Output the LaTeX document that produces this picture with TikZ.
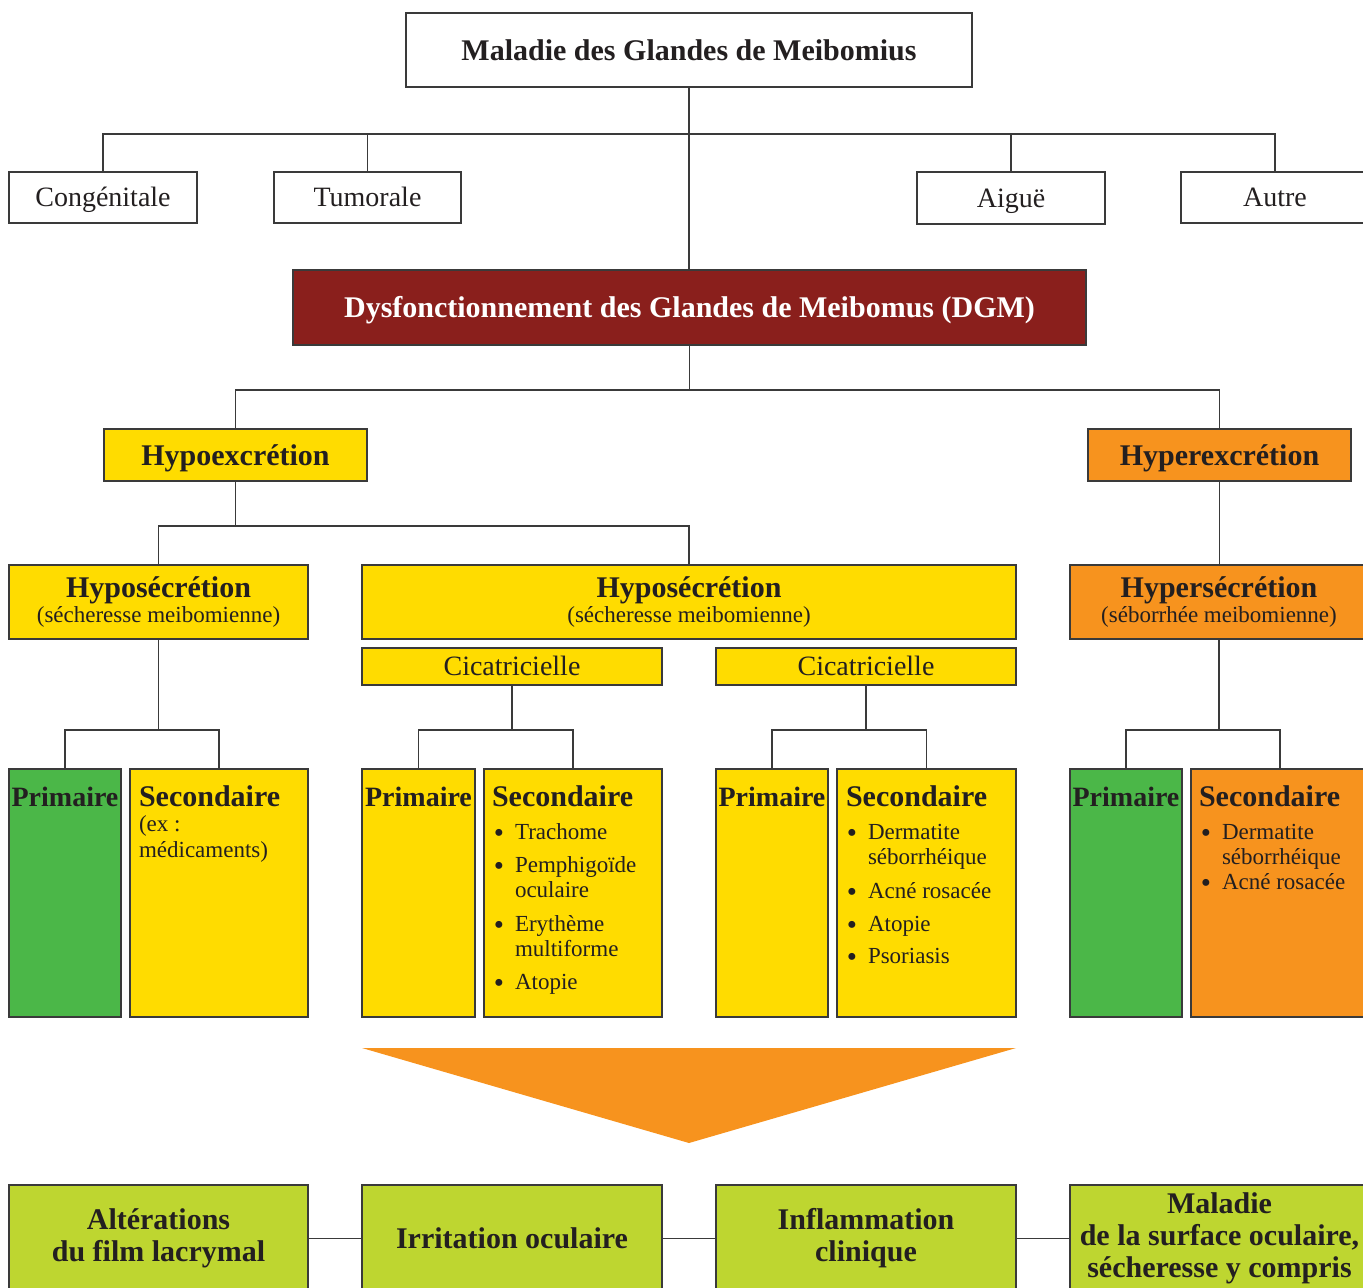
\documentclass[tikz,border=0pt]{standalone}
\usepackage{fontspec}
\setmainfont{Liberation Serif}
\definecolor{txt}{HTML}{231F20}
\definecolor{lnc}{HTML}{3A3A3A}
\definecolor{dgmred}{HTML}{8A1F1C}
\definecolor{yel}{HTML}{FFDC00}
\definecolor{org}{HTML}{F7931E}
\definecolor{grn}{HTML}{4BB748}
\definecolor{lime}{HTML}{BED630}
\newcommand\mybox[7]{\node[box,#2,minimum width=\fpeval{#5-#3}pt,minimum height=\fpeval{#6-#4}pt] (#1) at (#3,#4) {#7};}
\newcommand\blt[4]{\node[font=\fontsize{29}{30}\selectfont,anchor=base] (#1b) at (#2-16,#3+3.5) {\textbullet}; \node[sm,anchor=base west] (#1) at (#2,#3) {#4};}
\newcommand\cont[4]{\node[sm,anchor=base west] (#1) at (#2,#3) {#4};}
\begin{document}
\begin{tikzpicture}[x=1pt,y=-1pt,
  every node/.style={inner sep=0pt, outer sep=0pt, text=txt},
  box/.style={draw=lnc, line width=1.2pt, rectangle, anchor=north west, align=center},
  ln/.style={draw=lnc, line width=1.2pt},
  bf/.style={font=\fontsize{30}{32}\selectfont\bfseries},
  rg/.style={font=\fontsize{28}{30}\selectfont},
  sm/.style={font=\fontsize{23}{25}\selectfont},
  one30/.style={text height=20pt, text depth=0pt},
  one28/.style={text height=18.5pt, text depth=0pt},
  two/.style={font=\fontsize{30}{26}\selectfont}]
\useasboundingbox (0,0) rectangle (1363,1288);
\clip (0,0) rectangle (1363,1288);
% top level
\mybox{mgm}{fill=white,bf,one30}{406}{13}{972}{87}{Maladie des Glandes de Meibomius}
\mybox{cong}{fill=white,rg,one28}{9}{172}{197}{223}{Congénitale}
\mybox{tum}{fill=white,rg,one28}{274}{172}{461}{223}{Tumorale}
\mybox{aig}{fill=white,rg,one28}{917}{172}{1105}{224}{Aiguë}
\mybox{aut}{fill=white,rg,one28}{1181}{172}{1369}{223}{Autre}
\mybox{dgm}{fill=dgmred,bf,one30,text=white}{293}{270}{1086}{345}{Dysfonctionnement des Glandes de Meibomus (DGM)}
% second level
\mybox{hypo}{fill=yel,bf,one30}{104}{429}{367}{481}{Hypoexcrétion}
\mybox{hyper}{fill=org,bf,one30}{1088}{429}{1351}{481}{Hyperexcrétion}
\mybox{hs1}{fill=yel,two}{9}{565}{308}{639}{\bfseries Hyposécrétion\\[-1pt]\fontsize{23}{25}\selectfont (sécheresse meibomienne)}
\mybox{hs2}{fill=yel,two}{362}{565}{1016}{639}{\bfseries Hyposécrétion\\[-1pt]\fontsize{23}{25}\selectfont (sécheresse meibomienne)}
\mybox{hpr}{fill=org,two}{1070}{565}{1368}{639}{\bfseries Hypersécrétion\\[-1pt]\fontsize{23}{25}\selectfont (séborrhée meibomienne)}
\mybox{cic1}{fill=yel,rg,one28}{362}{648}{662}{685}{Cicatricielle}
\mybox{cic2}{fill=yel,rg,one28}{716}{648}{1016}{685}{Cicatricielle}
% third level
\mybox{p1}{fill=grn}{9}{769}{121}{1017}{}
\mybox{s1}{fill=yel}{130}{769}{308}{1017}{}
\mybox{p2}{fill=yel}{362}{769}{475}{1017}{}
\mybox{s2}{fill=yel}{484}{769}{662}{1017}{}
\mybox{p3}{fill=yel}{716}{769}{828}{1017}{}
\mybox{s3}{fill=yel}{837}{769}{1016}{1017}{}
\mybox{p4}{fill=grn}{1070}{769}{1182}{1017}{}
\mybox{s4}{fill=org}{1191}{769}{1369}{1017}{}
% texts in third level
\node[font=\fontsize{28}{30}\selectfont\bfseries,anchor=base] (tp1) at (p1.north |- 0,806) {Primaire};
\node[font=\fontsize{28}{30}\selectfont\bfseries,anchor=base] (tp2) at (p2.north |- 0,806) {Primaire};
\node[font=\fontsize{28}{30}\selectfont\bfseries,anchor=base] (tp3) at (p3.north |- 0,806) {Primaire};
\node[font=\fontsize{28}{30}\selectfont\bfseries,anchor=base] (tp4) at (p4.north |- 0,806) {Primaire};
\node[bf,anchor=base west] (ts1) at (139,806) {Secondaire};
\node[bf,anchor=base west] (ts2) at (492,806) {Secondaire};
\node[bf,anchor=base west] (ts3) at (846,806) {Secondaire};
\node[bf,anchor=base west] (ts4) at (1199,806) {Secondaire};
\cont{e1}{139}{831}{(ex :}
\cont{e2}{139}{857}{médicaments)}
\blt{a1}{515}{839}{Trachome}
\blt{a2}{515}{872}{Pemphigoïde}
\cont{a3}{515}{897}{oculaire}
\blt{a4}{515}{931}{Erythème}
\cont{a5}{515}{956}{multiforme}
\blt{a6}{515}{989}{Atopie}
\blt{c1}{868}{839}{Dermatite}
\cont{c2}{868}{864}{séborrhéique}
\blt{c3}{868}{898}{Acné rosacée}
\blt{c4}{868}{931}{Atopie}
\blt{c5}{868}{963}{Psoriasis}
\blt{d1}{1222}{839}{Dermatite}
\cont{d2}{1222}{864}{séborrhéique}
\blt{d3}{1222}{889}{Acné rosacée}
% connectors
\coordinate (r1) at (0,134);
\coordinate (r2) at (0,390);
\coordinate (r3) at (0,526);
\coordinate (r4) at (0,730);
\draw[ln] (mgm.south) -- (mgm.south |- dgm.north);
\draw[ln] (cong.north) -- (cong.north |- r1) -- (aut.north |- r1) -- (aut.north);
\draw[ln] (tum.north) -- (tum.north |- r1);
\draw[ln] (aig.north) -- (aig.north |- r1);
\draw[ln] (dgm.south) -- (dgm.south |- r2);
\draw[ln] (hypo.north) -- (hypo.north |- r2) -- (hyper.north |- r2) -- (hyper.north);
\draw[ln] (hypo.south) -- (hypo.south |- r3);
\draw[ln] (hs1.north) -- (hs1.north |- r3) -- (hs2.north |- r3) -- (hs2.north);
\draw[ln] (hyper.south) -- (hyper.south |- hpr.north);
\draw[ln] (hs1.south) -- (hs1.south |- r4);
\draw[ln] (p1.north) -- (p1.north |- r4) -- (s1.north |- r4) -- (s1.north);
\draw[ln] (cic1.south) -- (cic1.south |- r4);
\draw[ln] (p2.north) -- (p2.north |- r4) -- (s2.north |- r4) -- (s2.north);
\draw[ln] (cic2.south) -- (cic2.south |- r4);
\draw[ln] (p3.north) -- (p3.north |- r4) -- (s3.north |- r4) -- (s3.north);
\draw[ln] (hpr.south) -- (hpr.south |- r4);
\draw[ln] (p4.north) -- (p4.north |- r4) -- (s4.north |- r4) -- (s4.north);
% triangle
\fill[org] (362,1048) -- (1016,1048) -- (689,1143) -- cycle;
% bottom
\mybox{b1}{fill=lime,bf}{9}{1185}{308}{1292}{Altérations\\du film lacrymal}
\mybox{b2}{fill=lime,bf,one30}{362}{1185}{662}{1292}{Irritation oculaire}
\mybox{b3}{fill=lime,bf}{716}{1185}{1016}{1292}{Inflammation\\clinique}
\mybox{b4}{fill=lime,bf}{1070}{1185}{1369}{1292}{Maladie\\de la surface oculaire,\\sécheresse y compris}
\draw[ln] (b1.east) -- (b2.west);
\draw[ln] (b2.east) -- (b3.west);
\draw[ln] (b3.east) -- (b4.west);
\end{tikzpicture}
\end{document}
